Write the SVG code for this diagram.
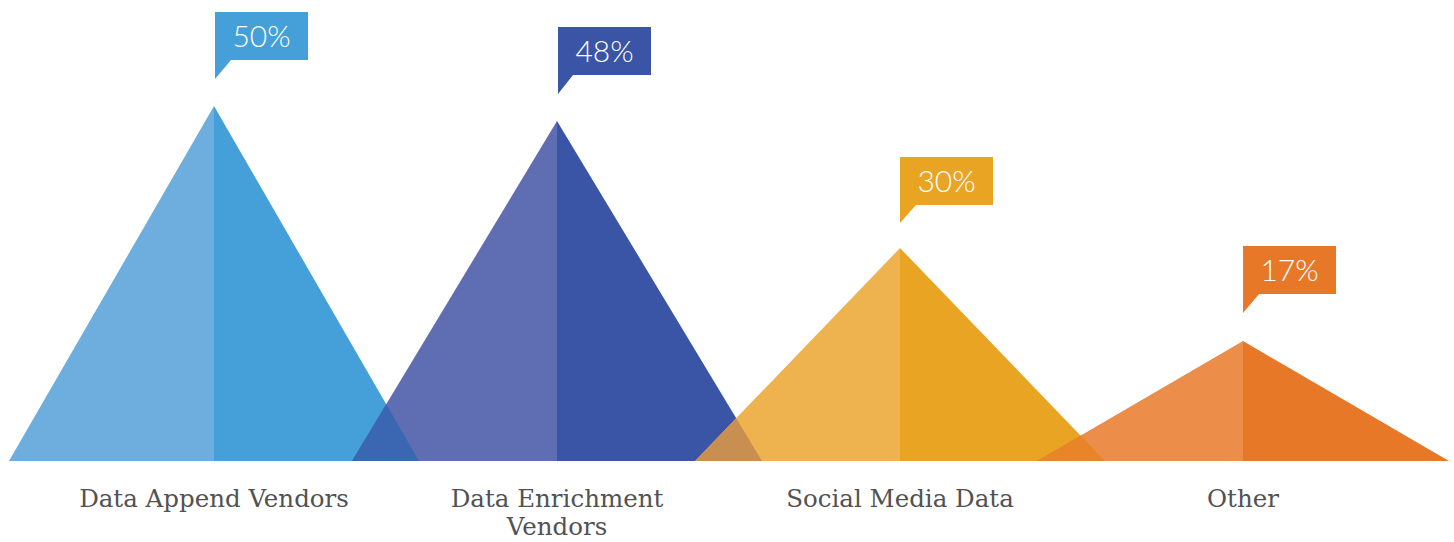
<svg xmlns="http://www.w3.org/2000/svg" width="1454" height="542" viewBox="0 0 1454 542">
<style>
.pct{font-family:Lato,"Liberation Sans",sans-serif;font-weight:300;font-size:30px;fill:#ffffff;text-anchor:middle}
.lbl{font-family:"DejaVu Serif","Liberation Serif",serif;font-size:24.5px;fill:#525252;text-anchor:middle}
</style>
<rect width="1454" height="542" fill="#ffffff"/>
<g id="bar-data-append">
<polygon points="9,461 214,106 214,461" fill="#6eaede"/>
<polygon points="214,106 419,461 214,461" fill="#45a0da"/>
<path d="M215,12 H308 V60 H231 L215,79 Z" fill="#45a0da"/>
<text class="pct" x="261.5" y="47">50%</text>
<text class="lbl" x="214" y="507">Data Append Vendors</text>
</g>
<g id="bar-data-enrichment">
<polygon points="352,461 557,121 557,461" fill="#5f6db3"/>
<polygon points="557,121 762,461 557,461" fill="#3a55a6"/>
<polygon points="352,461 386.2,404.2 419,461" fill="#3b67b2"/>
<path d="M558,27 H651 V75 H573 L558,94 Z" fill="#3a55a6"/>
<text class="pct" x="604.5" y="62">48%</text>
<text class="lbl" x="557" y="507">Data Enrichment</text>
<text class="lbl" x="557" y="535">Vendors</text>
</g>
<g id="bar-social-media">
<polygon points="695,461 900,248 900,461" fill="#eeb24f"/>
<polygon points="900,248 1105,461 900,461" fill="#e9a424"/>
<polygon points="695,461 736.2,418.2 762,461" fill="#c98f50"/>
<path d="M900,157 H993 V205 H916 L900,223 Z" fill="#e9a424"/>
<text class="pct" x="946.5" y="192">30%</text>
<text class="lbl" x="900" y="507">Social Media Data</text>
</g>
<g id="bar-other">
<polygon points="1037,461 1243,341 1243,461" fill="#ec8e4a"/>
<polygon points="1243,341 1449,461 1243,461" fill="#e77828"/>
<polygon points="1037,461 1080.6,435.6 1105,461" fill="#e88528"/>
<path d="M1243,246 H1336 V294 H1259 L1243,313 Z" fill="#e77828"/>
<text class="pct" x="1289.5" y="281">17%</text>
<text class="lbl" x="1243" y="507">Other</text>
</g>
</svg>
